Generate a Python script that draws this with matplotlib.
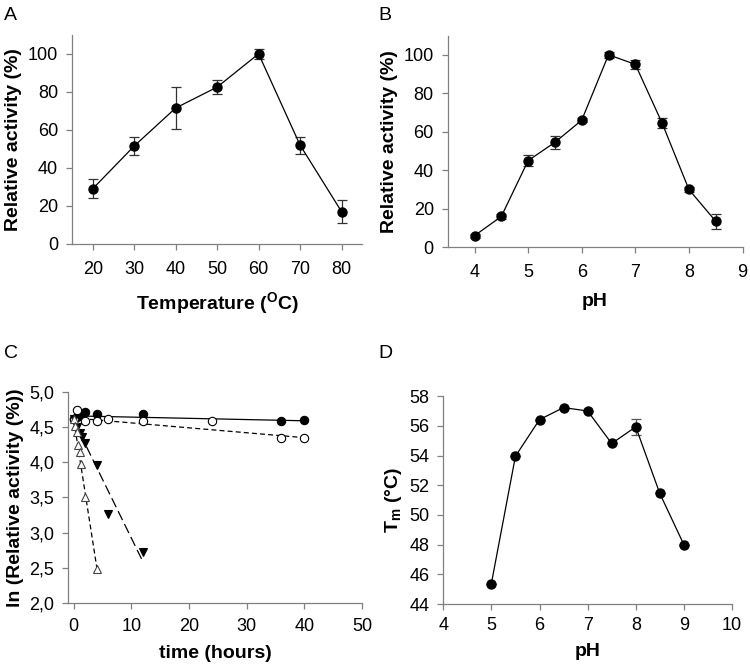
import numpy as np
from matplotlib import pyplot as plt
from matplotlib.ticker import FuncFormatter

plt.rcParams['font.family'] = ['Liberation Sans', 'DejaVu Sans']
plt.rcParams['mathtext.fontset'] = 'custom'
plt.rcParams['mathtext.rm'] = 'Liberation Sans:bold'
plt.rcParams['mathtext.bf'] = 'Liberation Sans:bold'

# A - temperature profile
temp = [20, 30, 40, 50, 60, 70, 80]
temp_act = [29, 51.5, 71.5, 82.5, 100, 52, 17]
temp_err = [5, 4.5, 11, 3.7, 2.5, 4.5, 6]

# B - pH profile
ph = [4, 4.5, 5, 5.5, 6, 6.5, 7, 7.5, 8, 8.5]
ph_act = [6, 16, 45, 54.5, 66, 100, 95, 64.5, 30, 13.5]
ph_err = [1, 1.5, 3, 3.5, 1, 1.5, 2.5, 2.5, 1.5, 4]

# C - thermal inactivation, ln(relative activity)
t_fc = [0, 0.5, 1, 2, 4, 12, 36, 40]
ln_fc = [4.62, 4.65, 4.68, 4.72, 4.68, 4.68, 4.59, 4.6]
t_oc = [0, 0.5, 2, 4, 6, 12, 24, 36, 40]
ln_oc = [4.61, 4.74, 4.59, 4.59, 4.61, 4.59, 4.59, 4.35, 4.35]
t_dt = [0, 0.5, 1, 1.5, 2, 4, 6, 12]
ln_dt = [4.62, 4.5, 4.42, 4.36, 4.27, 3.96, 3.26, 2.72]
t_ut = [0, 0.25, 0.5, 0.67, 1, 1.33, 2, 4]
ln_ut = [4.62, 4.52, 4.43, 4.25, 4.15, 3.97, 3.51, 2.49]
# linear fits (intercept, slope, last time)
fit_fc = [4.66, -0.00175, 40]
fit_oc = [4.63, -0.007, 40]
fit_dt = [4.59, -0.167, 12]
fit_ut = [4.6, -0.525, 4]

# D - melting temperature vs pH
ph_d = [5, 5.5, 6, 6.5, 7, 7.5, 8, 8.5, 9]
tm = [45.38, 53.96, 56.43, 57.24, 57.01, 54.82, 55.94, 51.45, 48.0]
tm_err = [0, 0, 0, 0, 0, 0, 0.55, 0, 0]

spine_col = '#808080'
tick_fs = 13
lab_fs = 14


def style(ax, xpad=8):
    for s in ['top', 'right']:
        ax.spines[s].set_visible(False)
    for s in ['left', 'bottom']:
        ax.spines[s].set_color(spine_col)
        ax.spines[s].set_linewidth(0.9)
    ax.tick_params(direction='out', length=4, width=0.9, color=spine_col,
                   labelsize=tick_fs, pad=6)
    ax.tick_params(axis='x', pad=xpad)


fig = plt.figure(figsize=(7.5, 6.7), dpi=100)

axA = fig.add_axes([0.096, 0.636, 0.387, 0.312])
axA.errorbar(temp, temp_act, yerr=temp_err, color='black', lw=0.9, marker='o',
             ms=6.5, capsize=3.5, elinewidth=0.9, ecolor='#333333', capthick=0.9)
axA.set_xlim(15, 85)
axA.set_ylim(0, 110)
axA.set_xticks(temp)
axA.set_yticks([0, 20, 40, 60, 80, 100])
axA.set_xlabel(r'Temperature ($^{\mathbf{O}}$C)', fontsize=lab_fs, fontweight='bold', labelpad=9)
axA.set_ylabel('Relative activity (%)', fontsize=lab_fs, fontweight='bold')
style(axA, 8)

axB = fig.add_axes([0.597, 0.631, 0.393, 0.316])
axB.errorbar(ph, ph_act, yerr=ph_err, color='black', lw=0.9, marker='o',
             ms=6.5, capsize=3.5, elinewidth=0.9, ecolor='#333333', capthick=0.9)
axB.set_xlim(3.5, 9)
axB.set_ylim(0, 110)
axB.set_xticks([4, 5, 6, 7, 8, 9])
axB.set_yticks([0, 20, 40, 60, 80, 100])
axB.set_xlabel('pH', fontsize=lab_fs, fontweight='bold', labelpad=9)
axB.set_ylabel('Relative activity (%)', fontsize=lab_fs, fontweight='bold')
style(axB, 8)

axC = fig.add_axes([0.0907, 0.1, 0.392, 0.315])
series = [
    (t_fc, ln_fc, fit_fc, 'o', 'black', 'black', '-'),
    (t_oc, ln_oc, fit_oc, 'o', 'white', 'black', (0, (4, 2.5))),
    (t_dt, ln_dt, fit_dt, 'v', 'black', 'black', (0, (8, 3.5))),
    (t_ut, ln_ut, fit_ut, '^', 'white', '#444444', (0, (4, 2.5))),
]
for t, y, fit, mk, fc, ec, ls in series:
    tt = np.array([0, fit[2]])
    axC.plot(tt, fit[0] + fit[1] * tt, color='black', lw=0.9, ls=ls, zorder=2)
    axC.plot(t, y, ls='none', marker=mk, ms=6 if mk == 'o' else 5.5,
             mfc=fc, mec=ec, mew=0.8, zorder=3)
axC.set_xlim(-1, 50)
axC.set_ylim(2, 5)
axC.set_xticks([0, 10, 20, 30, 40, 50])
axC.set_yticks(np.arange(2, 5.01, 0.5))
axC.yaxis.set_major_formatter(FuncFormatter(lambda v, p: f'{v:.1f}'.replace('.', ',')))
axC.set_xlabel('time (hours)', fontsize=lab_fs, fontweight='bold', labelpad=7)
axC.set_ylabel('ln (Relative activity (%))', fontsize=lab_fs, fontweight='bold')
style(axC, 7)

axD = fig.add_axes([0.591, 0.0985, 0.385, 0.310])
axD.errorbar(ph_d, tm, yerr=tm_err, color='black', lw=0.9, marker='o',
             ms=6.5, capsize=3.5, elinewidth=0.9, ecolor='#555555', capthick=0.9)
axD.set_xlim(4, 10)
axD.set_ylim(44, 58)
axD.set_xticks([4, 5, 6, 7, 8, 9, 10])
axD.set_yticks(range(44, 59, 2))
axD.set_xlabel('pH', fontsize=lab_fs, fontweight='bold', labelpad=7)
axD.set_ylabel(r'T$_{\mathbf{m}}$ (°C)', fontsize=lab_fs, fontweight='bold')
style(axD, 5)

for lbl, x, y in [('A', 0.005, 0.99), ('B', 0.505, 0.99), ('C', 0.005, 0.485), ('D', 0.505, 0.485)]:
    fig.text(x, y, lbl, fontsize=14, va='top', ha='left')

fig.savefig('out.png', dpi=100)
